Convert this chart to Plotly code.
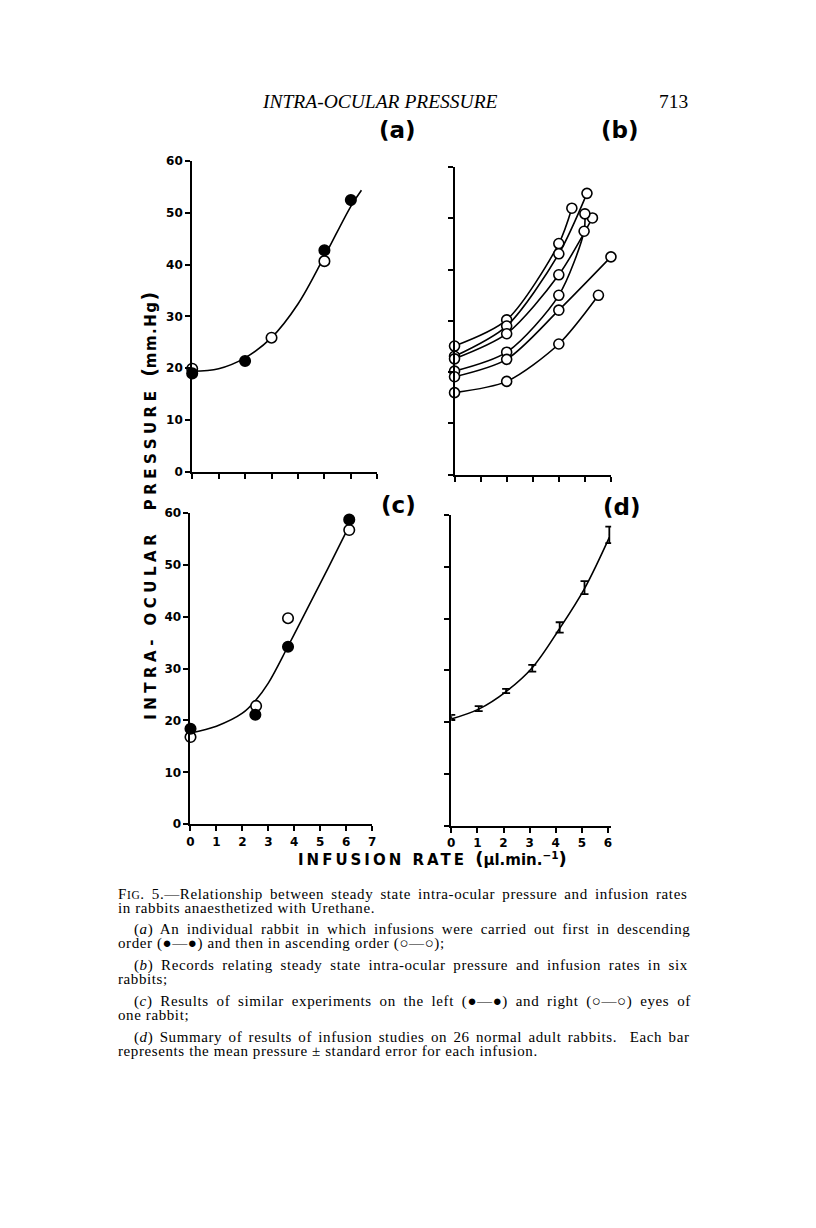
import plotly.graph_objects as go

W, H = 816, 1228          # target picture size
OFF = 8                   # default body margin of the html page
FW, FH = W - 2 * OFF, H - 2 * OFF

# ---------------- data ----------------
# (a) one rabbit: descending (filled) and ascending (open) order
a_desc_x = [0, 2, 5, 6]
a_desc_y = [19.0, 21.4, 42.8, 52.5]
a_asc_x = [0, 3, 5]
a_asc_y = [19.9, 25.9, 40.7]
a_fit_x = [0, 1, 2, 3, 4, 5, 6, 6.4]
a_fit_y = [19.4, 19.9, 22.0, 25.9, 32.4, 41.6, 51.3, 54.4]

# (b) six rabbits
b_series = [
    ([0, 2, 4, 4.5], [25.1, 30.2, 45.1, 52.0]),
    ([0, 2, 4, 5.08], [23.1, 29.0, 43.1, 54.9]),
    ([0, 2, 4, 5.29], [22.6, 27.5, 39.0, 50.1]),
    ([0, 2, 4, 4.97, 5.0], [20.2, 23.9, 35.0, 47.5, 50.9]),
    ([0, 2, 4, 6.0], [19.1, 22.5, 32.1, 42.5]),
    ([0, 2, 4, 5.52], [16.0, 18.2, 25.5, 35.0]),
]

# (c) left (filled) and right (open) eyes of one rabbit
c_left_x = [0, 2.5, 3.76, 6.12]
c_left_y = [18.4, 21.1, 34.2, 58.7]
c_right_x = [0, 2.53, 3.76, 6.12]
c_right_y = [16.8, 22.8, 39.7, 56.7]
c_fit_x = [0, 1, 2, 2.5, 3, 3.76, 4.5, 5.3, 6.1]
c_fit_y = [17.6, 18.9, 21.4, 23.8, 27.2, 34.3, 41.5, 49.3, 57.3]

# (d) mean +- s.e., 26 rabbits
d_x = [0, 1.05, 2.1, 3.1, 4.15, 5.1, 6.05]
d_mean = [20.9, 22.6, 26.0, 30.4, 38.3, 46.0, 56.2]
d_se = [0.5, 0.5, 0.4, 0.65, 1.0, 1.25, 1.6]
d_fit_y = [20.6, 22.5, 25.9, 30.5, 38.1, 45.8, 55.7]

y_ticks = [0, 10, 20, 30, 40, 50, 60]
y_ticktext = ["0", "10", "20", "30", "40", "50", "60"]
x7_ticks = [0, 1, 2, 3, 4, 5, 6, 7]
x6_ticks = [0, 1, 2, 3, 4, 5, 6]

# ---------------- figure ----------------
fig = go.Figure()
BLACK = "black"
SANS = "DejaVu Sans"
SERIF = "Liberation Serif"


def fitline(x, y, ax):
    fig.add_trace(go.Scatter(x=x, y=y, mode="lines",
                             line=dict(color=BLACK, width=1.6, shape="spline", smoothing=1.0),
                             xaxis="x" + ax, yaxis="y" + ax, cliponaxis=False, hoverinfo="skip"))


def pts(x, y, ax, filled):
    fig.add_trace(go.Scatter(x=x, y=y, mode="markers",
                             marker=dict(symbol="circle", size=10.5,
                                         color=BLACK if filled else "white",
                                         line=dict(color=BLACK, width=1.6)),
                             xaxis="x" + ax, yaxis="y" + ax, cliponaxis=False))


# (a)
fitline(a_fit_x, a_fit_y, "")
pts(a_asc_x, a_asc_y, "", False)
pts(a_desc_x, a_desc_y, "", True)

# (b)
for bx, by in b_series:
    fig.add_trace(go.Scatter(x=bx, y=by, mode="lines+markers",
                             line=dict(color=BLACK, width=1.6, shape="spline", smoothing=0.8),
                             marker=dict(symbol="circle", size=10, color="white",
                                         line=dict(color=BLACK, width=1.6)),
                             xaxis="x2", yaxis="y2", cliponaxis=False))

# (c)
fitline(c_fit_x, c_fit_y, "3")
pts(c_right_x, c_right_y, "3", False)
pts(c_left_x, c_left_y, "3", True)

# (d)
fitline(d_x, d_fit_y, "4")
fig.add_trace(go.Scatter(x=d_x, y=d_mean, mode="markers", marker=dict(size=1, color=BLACK),
                         error_y=dict(type="data", array=d_se, symmetric=True, color=BLACK,
                                      thickness=1.8, width=4),
                         xaxis="x4", yaxis="y4", cliponaxis=False))


def px_x(p):
    return (p - OFF) / FW


def px_y(p):
    return 1 - (p - OFF) / FH


TICKFONT = dict(family=SANS, size=12, color=BLACK, weight="bold")


def xaxis(dom, rng, ticks, labels, anchor):
    d = dict(domain=[px_x(dom[0]), px_x(dom[1])], range=rng, anchor=anchor,
             showline=True, linecolor=BLACK, linewidth=2,
             ticks="outside", ticklen=5, tickwidth=1.6, tickcolor=BLACK,
             tickvals=ticks, showgrid=False, zeroline=False, tickfont=TICKFONT)
    if labels is None:
        d["showticklabels"] = False
    else:
        d["ticktext"] = labels
    return d


def yaxis(dom, labels, anchor):
    d = dict(domain=[px_y(dom[0]), px_y(dom[1])], range=[0, 60], anchor=anchor,
             showline=True, linecolor=BLACK, linewidth=2,
             ticks="outside", ticklen=5, tickwidth=1.6, tickcolor=BLACK,
             tickvals=y_ticks, showgrid=False, zeroline=False, tickfont=TICKFONT)
    if labels is None:
        d["showticklabels"] = False
    else:
        d["ticktext"] = labels
    return d


fig.update_layout(
    width=FW, height=FH, margin=dict(l=0, r=0, t=0, b=0),
    paper_bgcolor="white", plot_bgcolor="rgba(0,0,0,0)", showlegend=False,
    xaxis=xaxis((190, 377), [0, 7], x7_ticks, None, "y"),
    yaxis=yaxis((470, 156), y_ticktext, "x"),
    xaxis2=xaxis((455, 613), [0, 6], x6_ticks, None, "y2"),
    yaxis2=yaxis((473, 162), None, "x2"),
    xaxis3=xaxis((188.3, 371.7), [0, 7], x7_ticks, [str(v) for v in x7_ticks], "y3"),
    yaxis3=yaxis((826.7, 511.7), y_ticktext, "x3"),
    xaxis4=xaxis((451.7, 613.2), [0, 6.12], x6_ticks, [str(v) for v in x6_ticks], "y4"),
    yaxis4=yaxis((828, 514), None, "x4"),
)

ann = []


def text(x, y, s, size, family=SANS, bold=False, xanchor="center", angle=0, italic=False):
    ann.append(dict(x=px_x(x), y=px_y(y), xref="paper", yref="paper", text=s, showarrow=False,
                    xanchor=xanchor, yanchor="middle", textangle=angle, borderpad=0,
                    font=dict(family=family, size=size, color=BLACK,
                              weight="bold" if bold else "normal",
                              style="italic" if italic else "normal")))


# header
text(380, 96, "INTRA-OCULAR PRESSURE", 19.5, SERIF, italic=True)
text(676, 96, "713", 19.5, SERIF)

# panel labels
text(397, 124, "(a)", 23, SANS, bold=True)
text(622, 124, "(b)", 23, SANS, bold=True)
text(398, 504, "(c)", 23, SANS, bold=True)
text(624, 506, "(d)", 23, SANS, bold=True)

# axis titles
ytitle = ('<span style="letter-spacing:4.5px">INTRA- OCULAR  PRESSURE </span>'
          '<span style="font-size:19px">(</span><span style="letter-spacing:1.5px">mm.Hg</span>'
          '<span style="font-size:19px">)</span>')
text(147, 505, ytitle, 15, SANS, bold=True, angle=-90)
xtitle = ('<span style="letter-spacing:3px">INFUSION RATE </span>'
          '<span style="font-size:18px">(</span>µl.min.<sup>−1</sup><span style="font-size:18px">)</span>')
text(433, 861, xtitle, 15, SANS, bold=True)

# caption (left x, centre y, word-spacing px, text)
cap = [
    (114, 897, 2.8, 'F<span style="font-size:11.5px">IG</span>. 5.—Relationship between steady state intra-ocular pressure and infusion rates'),
    (114, 911, 0, 'in rabbits anaesthetized with Urethane.'),
    (130, 933, 3.0, '(<i>a</i>) An individual rabbit in which infusions were carried out first in descending'),
    (114, 947, 0, 'order (●—●) and then in ascending order (○—○);'),
    (130, 970, 3.4, '(<i>b</i>) Records relating steady state intra-ocular pressure and infusion rates in six'),
    (114, 983, 0, 'rabbits;'),
    (130, 1006, 3.5, '(<i>c</i>) Results of similar experiments on the left (●—●) and right (○—○) eyes of'),
    (114, 1020, 0, 'one rabbit;'),
    (130, 1042, 2.0, '(<i>d</i>) Summary of results of infusion studies on 26 normal adult rabbits.  Each bar'),
    (114, 1056, 0, 'represents the mean pressure ± standard error for each infusion.'),
]
for cx, cy, ws, s in cap:
    html = '<span style="letter-spacing:0.6px;word-spacing:%.1fpx">%s</span>' % (ws, s)
    text(cx, cy, html, 15, SERIF, xanchor="left")

fig.update_layout(annotations=ann)
fig.write_html("out.html")
